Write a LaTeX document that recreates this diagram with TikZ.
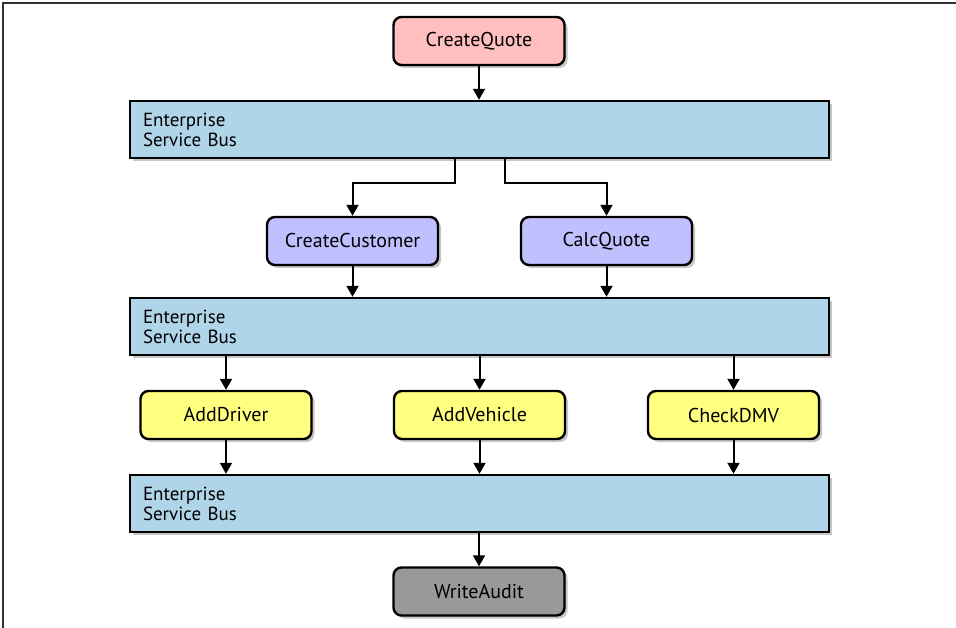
\documentclass[tikz,border=0pt]{standalone}
\usepackage{fontspec}
\setmainfont{PT Sans}
\usepackage{xcolor}
\usepackage{tikz}
\usetikzlibrary{positioning, arrows.meta, shadows}

\definecolor{quotepink}{HTML}{FFBFBF}
\definecolor{busblue}{HTML}{B0D4E8}
\definecolor{svcpurple}{HTML}{C0C0FF}
\definecolor{svcyellow}{HTML}{FFFF80}
\definecolor{auditgray}{HTML}{999999}

\tikzset{
    svc/.style={draw=black, line width=2.4pt, rounded corners=8pt,
        minimum width=171pt, minimum height=48pt, inner sep=0pt,
        font=\fontsize{20}{22}\selectfont,
        drop shadow={shadow xshift=3pt, shadow yshift=-3pt, opacity=0.45}},
    bus/.style={draw=black, line width=2.4pt, fill=busblue,
        text width=673pt, inner xsep=13pt, minimum height=57pt, align=left,
        font=\fontsize{19}{20}\selectfont,
        drop shadow={shadow xshift=3pt, shadow yshift=-3pt, opacity=0.45}},
    flow/.style={line width=2pt, -{Triangle[width=12pt,length=11pt]}}
}

\begin{document}
\begin{tikzpicture}[x=1pt, y=-1pt]
        \useasboundingbox (0,0) rectangle (956,628);
        \draw[line width=2pt, black!80] (3,628) -- (3,3) -- (956,3);

        \node[svc, fill=quotepink] (quote) at (479,41) {CreateQuote};
        \node[bus] (bus1) at (479.5,129.5) {Enterprise\\Service Bus};

        \node[svc, fill=svcpurple] (cust) at (352.5,241) {CreateCustomer};
        \node[svc, fill=svcpurple] (calc) at (606.5,241) {CalcQuote};

        \node[bus] (bus2) at (479.5,326.5) {Enterprise\\Service Bus};

        \node[svc, fill=svcyellow] (driver)  at (226,415) {AddDriver};
        \node[svc, fill=svcyellow] (vehicle) at (479.5,415) {AddVehicle};
        \node[svc, fill=svcyellow] (dmv)     at (733.5,415) {CheckDMV};

        \node[bus] (bus3) at (479.5,503.5) {Enterprise\\Service Bus};

        \node[svc, fill=auditgray] (audit) at (479,591.5) {WriteAudit};

        % top level
        \draw[flow] (quote) -- (quote |- bus1.north);
        \draw[flow] ([xshift=-25pt]bus1.south) -- ++(0,24) -| (cust.north);
        \draw[flow] ([xshift=25pt]bus1.south) -- ++(0,24) -| (calc.north);

        % second level
        \draw[flow] (cust) -- (cust |- bus2.north);
        \draw[flow] (calc) -- (calc |- bus2.north);
        \draw[flow] (bus2.south -| driver) -- (driver);
        \draw[flow] (bus2.south -| vehicle) -- (vehicle);
        \draw[flow] (bus2.south -| dmv) -- (dmv);

        % third level
        \draw[flow] (driver) -- (driver |- bus3.north);
        \draw[flow] (vehicle) -- (vehicle |- bus3.north);
        \draw[flow] (dmv) -- (dmv |- bus3.north);
        \draw[flow] (bus3.south -| audit) -- (audit);
    \end{tikzpicture}
\end{document}
